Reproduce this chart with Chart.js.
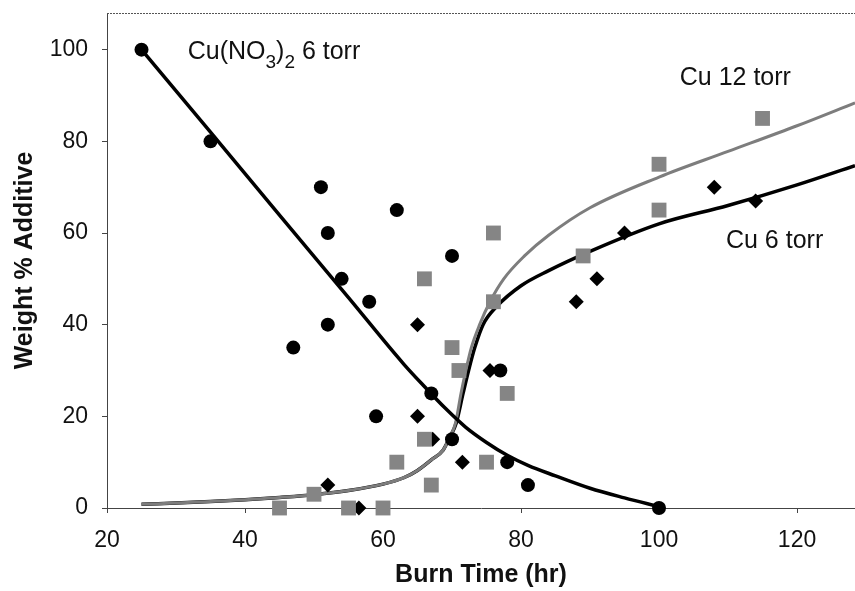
<!DOCTYPE html>
<html>
<head>
<meta charset="utf-8">
<script src="https://cdn.jsdelivr.net/npm/chart.js@4/dist/chart.umd.min.js"></script>
<style>
  html, body { margin: 0; padding: 0; background: #fff; }
</style>
</head>
<body>
<canvas id="burnChart" width="855" height="591"></canvas>
<script>
// measured points
const nitrateX = [25, 35, 47, 51, 52, 52, 54, 58, 59, 62, 67, 70, 70, 77, 78, 81, 100];
const nitrateY = [100, 80, 35, 70, 60, 40, 50, 45, 20, 65, 25, 55, 15, 30, 10, 5, 0];

const cu12X = [45, 50, 55, 60, 62, 66, 66, 67, 70, 71, 75, 76, 76, 78, 89, 100, 100, 115];
const cu12Y = [0, 3, 0, 0, 10, 50, 15, 5, 35, 30, 10, 60, 45, 25, 55, 75, 65, 85];

const cu6X = [52, 56.5, 65, 65, 67.2, 71.5, 75.5, 88, 91, 95, 108, 114];
const cu6Y = [5, 0, 40, 20, 15, 10, 30, 45, 50, 60, 70, 67];

// fitted curves
const nitrateFitX = [25, 35, 45, 55, 63, 66, 69, 72, 75, 78, 81, 85, 90, 95, 100];
const nitrateFitY = [100, 82, 63.9, 45.9, 31.4, 26.5, 21.8, 17.6, 14.3, 11.5, 9.3, 7.0, 4.3, 2.2, 0.3];

const cu12FitX = [25, 30, 35, 40, 45, 50, 55, 60, 63, 65, 67, 68.7, 69.7, 70.5, 71.3, 72, 72.8, 74, 75.5, 77.5, 80.5, 84, 90, 100, 110, 120, 128.4];
const cu12FitY = [0.8, 1.1, 1.4, 1.8, 2.3, 2.9, 3.8, 5.2, 6.6, 8.2, 10.5, 12.6, 15.5, 18.5, 25, 30, 35, 40, 45, 50, 55, 59.5, 65.5, 72.2, 77.8, 83.4, 88.4];

const cu6FitX = [25, 30, 35, 40, 45, 50, 55, 60, 63, 65, 67, 68.7, 69.7, 70.6, 71.6, 72.4, 73.3, 74.5, 76.5, 80, 84, 90, 100, 110, 120, 128.4];
const cu6FitY = [0.8, 1.1, 1.4, 1.8, 2.3, 2.9, 3.8, 5.2, 6.6, 8.2, 10.5, 12.6, 15.5, 18.5, 25, 30, 35, 40, 44, 48.5, 51.8, 56, 62, 66, 70.5, 74.7];

const xTicks = [20, 40, 60, 80, 100, 120];
const yTicks = [0, 20, 40, 60, 80, 100];

const labelX = [31.7, 103, 109.7];
const labelY = [98, 92.2, 56.7];
const labelParts = [
  [['Cu(NO', 0], ['3', 1], [')', 0], ['2', 1], [' 6 torr', 0]],
  [['Cu 12 torr', 0]],
  [['Cu 6 torr', 0]]
];

const toPoints = (xs, ys) => xs.map((x, i) => ({ x: x, y: ys[i] }));

const frameAndLabels = {
  id: 'frameAndLabels',
  afterDraw(chart) {
    const { ctx, chartArea, scales } = chart;
    ctx.save();
    ctx.strokeStyle = '#555';
    ctx.lineWidth = 1;
    ctx.setLineDash([2, 1]);
    ctx.beginPath();
    ctx.moveTo(chartArea.left, chartArea.top + 0.5);
    ctx.lineTo(chartArea.right, chartArea.top + 0.5);
    ctx.stroke();
    ctx.setLineDash([]);

    ctx.fillStyle = '#111';
    ctx.textBaseline = 'alphabetic';
    labelParts.forEach((parts, i) => {
      let px = scales.x.getPixelForValue(labelX[i]);
      const py = scales.y.getPixelForValue(labelY[i]);
      parts.forEach(([txt, sub]) => {
        ctx.font = sub ? '19px "Liberation Sans", Arial, sans-serif' : '25px "Liberation Sans", Arial, sans-serif';
        ctx.fillText(txt, px, sub ? py + 9 : py);
        px += ctx.measureText(txt).width;
      });
    });
    ctx.restore();
  }
};

const tickFont = { family: '"Liberation Sans", Arial, sans-serif', size: 23 };
const titleFont = { family: '"Liberation Sans", Arial, sans-serif', size: 25, weight: 'bold' };

new Chart(document.getElementById('burnChart'), {
  type: 'scatter',
  data: {
    datasets: [
      {
        label: 'Cu(NO3)2 6 torr',
        data: toPoints(nitrateX, nitrateY),
        pointStyle: 'circle',
        pointRadius: 7,
        backgroundColor: '#000',
        borderWidth: 0,
        clip: false,
        order: 1
      },
      {
        label: 'Cu 12 torr',
        data: toPoints(cu12X, cu12Y),
        pointStyle: 'rect',
        pointRadius: 10.5,
        backgroundColor: '#858585',
        borderWidth: 0,
        clip: false,
        order: 1
      },
      {
        label: 'Cu 6 torr',
        data: toPoints(cu6X, cu6Y),
        pointStyle: 'rectRot',
        pointRadius: 7.5,
        backgroundColor: '#000',
        borderWidth: 0,
        clip: false,
        order: 1
      },
      {
        label: 'Cu(NO3)2 fit',
        data: toPoints(nitrateFitX, nitrateFitY),
        showLine: true,
        pointRadius: 0,
        borderColor: '#000',
        borderWidth: 3.5,
        cubicInterpolationMode: 'monotone',
        order: 2
      },
      {
        label: 'Cu 12 fit',
        data: toPoints(cu12FitX, cu12FitY),
        showLine: true,
        pointRadius: 0,
        borderColor: '#7d7d7d',
        borderWidth: 3,
        cubicInterpolationMode: 'monotone',
        order: 2
      },
      {
        label: 'Cu 6 fit',
        data: toPoints(cu6FitX, cu6FitY),
        showLine: true,
        pointRadius: 0,
        borderColor: '#000',
        borderWidth: 3.5,
        cubicInterpolationMode: 'monotone',
        order: 3
      }
    ]
  },
  options: {
    responsive: false,
    animation: false,
    layout: { autoPadding: false, padding: { top: 13, right: 0, left: 0, bottom: 0 } },
    plugins: {
      legend: { display: false },
      tooltip: { enabled: false }
    },
    scales: {
      x: {
        type: 'linear',
        min: 20,
        max: 128.4,
        afterFit: scale => {
          scale.height = 83;
          scale.paddingLeft = 0;
          scale.paddingRight = 0;
        },
        afterBuildTicks: scale => { scale.ticks = xTicks.map(v => ({ value: v })); },
        border: { display: true, color: '#444', width: 1, dash: [2, 1] },
        grid: { drawOnChartArea: false, drawTicks: true, tickLength: 5, color: '#444' },
        ticks: { color: '#111', font: tickFont, padding: 14, maxRotation: 0 },
        title: { display: true, text: 'Burn Time (hr)', color: '#111', font: titleFont, padding: { top: 0, bottom: 1 } }
      },
      y: {
        type: 'linear',
        min: 0,
        max: 108,
        afterFit: scale => {
          scale.width = 107;
          scale.paddingTop = 0;
          scale.paddingBottom = 0;
        },
        afterBuildTicks: scale => { scale.ticks = yTicks.map(v => ({ value: v })); },
        border: { display: true, color: '#444', width: 1, dash: [2, 1] },
        grid: { drawOnChartArea: false, drawTicks: true, tickLength: 5, color: '#444' },
        ticks: { color: '#111', font: tickFont, padding: 14 },
        title: { display: true, text: 'Weight % Additive', color: '#111', font: titleFont, padding: { top: 10, bottom: 0 } }
      }
    }
  },
  plugins: [frameAndLabels]
});
</script>
</body>
</html>
